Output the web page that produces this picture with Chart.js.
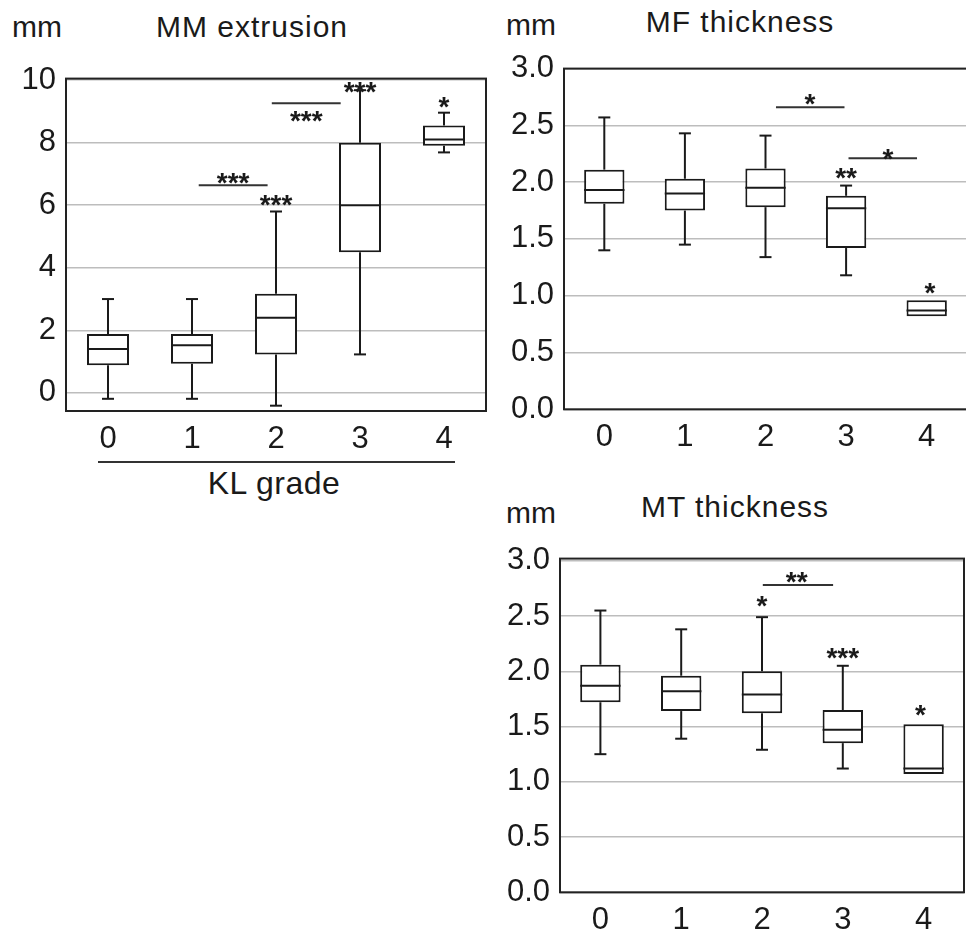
<!DOCTYPE html>
<html lang="en">
<head>
<meta charset="UTF-8">
<title>Meniscus measures by KL grade</title>
<script src="https://cdn.jsdelivr.net/npm/chart.js"></script>
<style>
  body { margin: 0; width: 966px; height: 935px; overflow: hidden; background: #fff; position: relative;
         font-family: 'Liberation Sans', Arial, sans-serif; color: #1a1a1a; }
  canvas { position: absolute; }
  .txt { position: absolute; font-size: 30px; line-height: 1; white-space: nowrap; }
  .title { letter-spacing: 1px; transform: translateX(-50%); }
  .rule { position: absolute; border-top: 2px solid #333; height: 0; }
</style>
</head>
<body>
  <div class="txt" style="left:12px; top:12px;">mm</div>
  <div class="txt title" style="left:252px; top:12px;">MM extrusion</div>
  <div class="txt" style="left:506px; top:10px;">mm</div>
  <div class="txt title" style="left:740px; top:7px;">MF thickness</div>
  <div class="txt" style="left:506px; top:498px;">mm</div>
  <div class="txt title" style="left:735px; top:492px;">MT thickness</div>
  <div class="rule" style="left:98px; top:461px; width:357px;"></div>
  <div class="txt title" style="left:274px; top:467px; font-size:32px; letter-spacing:0.5px;">KL grade</div>

  <canvas id="chartMM" width="500" height="420" style="left:0; top:50px;"></canvas>
  <canvas id="chartMF" width="500" height="430" style="left:480px; top:40px;"></canvas>
  <canvas id="chartMT" width="500" height="405" style="left:480px; top:530px;"></canvas>

  <script>
    const grades = ['0', '1', '2', '3', '4'];

    // MM extrusion (mm)
    const mmMin    = [-0.19, -0.19, -0.41, 1.23, 7.69];
    const mmQ1     = [0.88, 0.93, 1.23, 4.50, 7.90];
    const mmMedian = [1.40, 1.52, 2.40, 6.00, 8.10];
    const mmQ3     = [1.88, 1.88, 3.17, 8.00, 8.55];
    const mmMax    = [3.00, 3.00, 5.80, 9.68, 8.96];
    const mmTicks  = [0, 2, 4, 6, 8, 10];
    // [x (grade), y, text]
    const mmStars  = [[2, 6.24, '***'], [3, 9.84, '***'], [4, 9.37, '*'], [1.49, 6.95, '***'], [2.36, 8.91, '***']];
    // [from grade, to grade, y]
    const mmBrackets = [[1.08, 1.90, 6.64], [1.95, 2.77, 9.26]];

    // MF thickness (mm)
    const mfMin    = [1.40, 1.45, 1.34, 1.18, 0.82];
    const mfQ1     = [1.81, 1.75, 1.78, 1.42, 0.82];
    const mfMedian = [1.93, 1.90, 1.95, 1.77, 0.87];
    const mfQ3     = [2.11, 2.03, 2.12, 1.88, 0.96];
    const mfMax    = [2.57, 2.43, 2.41, 1.97, 0.96];
    const mfTicks  = [0, 0.5, 1, 1.5, 2, 2.5, 3];
    const mfStars  = [[2.55, 2.75, '*'], [3.52, 2.27, '*'], [3, 2.10, '**'], [4.04, 1.09, '*']];
    const mfBrackets = [[2.13, 2.98, 2.66], [3.03, 3.88, 2.21]];

    // MT thickness (mm)
    const mtMin    = [1.25, 1.39, 1.29, 1.12, 1.07];
    const mtQ1     = [1.72, 1.64, 1.62, 1.35, 1.07];
    const mtMedian = [1.87, 1.82, 1.79, 1.47, 1.12];
    const mtQ3     = [2.06, 1.96, 2.00, 1.65, 1.52];
    const mtMax    = [2.55, 2.38, 2.49, 2.05, 1.52];
    const mtTicks  = [0, 0.5, 1, 1.5, 2, 2.5, 3];
    const mtStars  = [[2.43, 2.87, '**'], [2, 2.65, '*'], [3, 2.18, '***'], [3.96, 1.67, '*']];
    const mtBrackets = [[2.01, 2.88, 2.78]];

    const FONT = "'Liberation Sans', Arial, sans-serif";
    const INK = '#1a1a1a';

    // whiskers, medians, frame and significance marks
    const boxPlugin = {
      id: 'boxplot',
      afterDatasetsDraw(chart, args, o) {
        const { ctx, chartArea: a } = chart;
        const x = chart.scales.x, y = chart.scales.y;
        const bars = chart.getDatasetMeta(0).data;
        const line = (x1, y1, x2, y2) => { ctx.beginPath(); ctx.moveTo(x1, y1); ctx.lineTo(x2, y2); ctx.stroke(); };
        ctx.save();
        ctx.strokeStyle = INK;
        ctx.lineWidth = 2;
        o.median.forEach((m, i) => {
          const cx = bars[i].x, half = bars[i].width / 2;
          const pm = y.getPixelForValue(m);
          line(cx - half, pm, cx + half, pm);
          const pTop = y.getPixelForValue(o.max[i]), pQ3 = y.getPixelForValue(o.q3[i]);
          if (o.max[i] > o.q3[i]) { line(cx, pQ3, cx, pTop); line(cx - 6, pTop, cx + 6, pTop); }
          const pBot = y.getPixelForValue(o.min[i]), pQ1 = y.getPixelForValue(o.q1[i]);
          if (o.min[i] < o.q1[i]) { line(cx, pQ1, cx, pBot); line(cx - 6, pBot, cx + 6, pBot); }
        });
        // brackets
        ctx.strokeStyle = '#333';
        o.brackets.forEach(([g1, g2, v]) => {
          const py = y.getPixelForValue(v);
          line(x.getPixelForValue(g1), py, x.getPixelForValue(g2), py);
        });
        // stars
        ctx.fillStyle = INK;
        ctx.font = 'bold 28px ' + FONT;
        ctx.textAlign = 'center';
        ctx.textBaseline = 'alphabetic';
        o.stars.forEach(([g, v, t]) => {
          ctx.fillText(t, x.getPixelForValue(g), y.getPixelForValue(v) + 16);
        });
        // frame
        ctx.strokeStyle = '#222';
        ctx.strokeRect(a.left, a.top, a.right - a.left, a.bottom - a.top);
        ctx.restore();
      }
    };

    function makeChart(id, p) {
      return new Chart(document.getElementById(id), {
        type: 'bar',
        data: {
          labels: grades,
          datasets: [{
            data: p.q1.map((v, i) => [v, p.q3[i]]),
            backgroundColor: '#fff',
            borderColor: INK,
            borderWidth: 2,
            borderSkipped: false,
            barPercentage: 0.5,
            categoryPercentage: 1
          }]
        },
        options: {
          responsive: false,
          animation: false,
          layout: { padding: { top: p.top, right: p.right, left: 0, bottom: 0 } },
          plugins: {
            legend: { display: false },
            tooltip: { enabled: false },
            boxplot: p
          },
          scales: {
            x: {
              grid: { display: false, drawTicks: false },
              border: { display: false },
              ticks: { font: { family: FONT, size: 31 }, color: INK, padding: 10 },
              afterFit: s => { s.height = p.xh; }
            },
            y: {
              min: p.ymin, max: p.ymax,
              grid: { color: '#bdbdbd', lineWidth: 1.5, drawTicks: false },
              border: { display: false },
              ticks: {
                font: { family: FONT, size: 31 }, color: INK, padding: 10,
                callback: v => p.fmt(v)
              },
              afterBuildTicks: s => { s.ticks = p.ticks.map(v => ({ value: v })); },
              afterFit: s => { s.width = p.yw; }
            }
          }
        },
        plugins: [boxPlugin]
      });
    }

    makeChart('chartMM', {
      min: mmMin, q1: mmQ1, median: mmMedian, q3: mmQ3, max: mmMax,
      ticks: mmTicks, stars: mmStars, brackets: mmBrackets,
      ymin: -0.58, ymax: 10.05, fmt: v => String(v),
      top: 18, right: 14, yw: 66, xh: 59
    });
    makeChart('chartMF', {
      min: mfMin, q1: mfQ1, median: mfMedian, q3: mfQ3, max: mfMax,
      ticks: mfTicks, stars: mfStars, brackets: mfBrackets,
      ymin: 0, ymax: 3, fmt: v => v.toFixed(1),
      top: 25.5, right: 13, yw: 84, xh: 60.7
    });
    makeChart('chartMT', {
      min: mtMin, q1: mtQ1, median: mtMedian, q3: mtQ3, max: mtMax,
      ticks: mtTicks, stars: mtStars, brackets: mtBrackets,
      ymin: 0, ymax: 3.02, fmt: v => v.toFixed(1),
      top: 20, right: 16, yw: 80, xh: 42.7
    });
  </script>
</body>
</html>
